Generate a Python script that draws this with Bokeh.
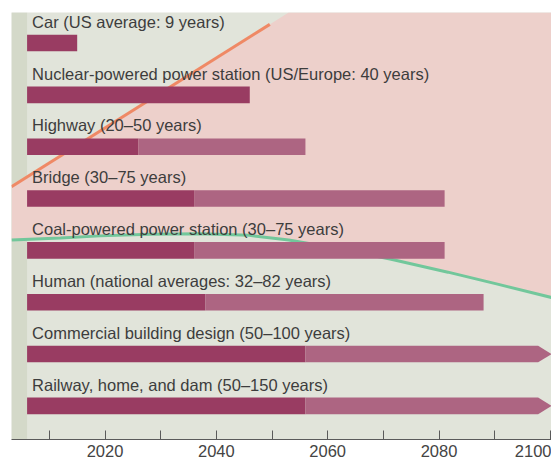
import numpy as np
from bokeh.plotting import figure
from bokeh.models import Range1d, FixedTicker
from bokeh.embed import file_html
from bokeh.resources import INLINE
from bokeh.core.properties import value

# ---- data ----
labels = [
    "Car (US average: 9 years)",
    "Nuclear-powered power station (US/Europe: 40 years)",
    "Highway (20\u201350 years)",
    "Bridge (30\u201375 years)",
    "Coal-powered power station (30\u201375 years)",
    "Human (national averages: 32\u201382 years)",
    "Commercial building design (50\u2013100 years)",
    "Railway, home, and dam (50\u2013150 years)",
]
start_year = 2006
min_years = [9, 40, 20, 30, 30, 32, 50, 50]
max_years = [9, 40, 50, 75, 75, 82, 100, 150]
rows = [7, 6, 5, 4, 3, 2, 1, 0]

major_ticks = [2020, 2040, 2060, 2080, 2100]
minor_ticks = [2010, 2030, 2050, 2070, 2090]

orange_x = [2003.2, 2049.6]
orange_y = [4.23, 7.36]
green_x = [2003.2, 2012.0, 2019.1, 2028.0, 2037.0, 2045.9, 2053.0, 2062.0, 2071.4, 2081.6, 2090.5, 2101.0]
green_y = [3.20, 3.24, 3.28, 3.31, 3.32, 3.29, 3.20, 3.03, 2.83, 2.58, 2.35, 2.07]

X0, X1 = 2003.2, 2100.2
Y0, Y1 = -0.648, 7.589

# ---- styles ----
BG = "#e1e4da"
STRIP = "#d4d9c9"
PINK = "#edd0cb"
DARK = "#993c62"
LIGHT = "#ad6582"
ORANGE = "#ef8965"
GREEN = "#72c79b"
FONT = "Liberation Sans"
BAR_H = 0.32
LABEL_GAP = 0.25
HEAD = 2.4

p = figure(width=551, height=459, x_range=Range1d(X0, X1), y_range=Range1d(Y0, Y1),
           output_backend="svg", toolbar_location=None, y_axis_location=None,
           min_border_left=11, min_border_right=0, min_border_top=12, min_border_bottom=0)
p.background_fill_color = BG
p.border_fill_color = "white"
p.outline_line_color = None
p.grid.visible = False

# left strip
p.quad(left=[X0], right=[start_year], bottom=[Y0], top=[Y1], color=STRIP, line_color=None)

# pink zone between the orange line and green curve
slope = (orange_y[1] - orange_y[0]) / (orange_x[1] - orange_x[0])
x_top = orange_x[0] + (Y1 - orange_y[0]) / slope
pxs = [orange_x[0], x_top, green_x[-1]] + green_x[::-1]
pys = [orange_y[0], Y1, Y1] + green_y[::-1]
p.patch(pxs, pys, color=PINK, line_color=None)

p.line(orange_x, orange_y, line_width=3, color=ORANGE)
p.line(green_x, green_y, line_width=3, color=GREEN)

rows_a = np.array(rows, dtype=float)
mn = np.array(min_years, dtype=float)
mx = np.array(max_years, dtype=float)

# dark bars (minimum lifetime)
p.hbar(y=rows_a, left=start_year, right=start_year + mn, height=BAR_H, color=DARK, line_color=None)

# light bars (range to maximum)
ends = start_year + mx
inside = (mx > mn) & (ends <= X1)
p.hbar(y=rows_a[inside], left=start_year + mn[inside], right=ends[inside], height=BAR_H,
       color=LIGHT, line_color=None)

# arrows for bars going beyond the view
over = ends > X1
xs, ys = [], []
for r, m in zip(rows_a[over], mn[over]):
    l = start_year + m
    b = X1 - HEAD
    xs.append([l, b, X1, b, l])
    ys.append([r - BAR_H / 2, r - BAR_H / 2, r, r + BAR_H / 2, r + BAR_H / 2])
p.patches(xs, ys, color=LIGHT, line_color=None)

# labels
p.text(x=[start_year] * len(rows), y=rows_a + BAR_H / 2 + LABEL_GAP, text=labels, x_offset=5,
       text_font=value(FONT), text_font_size="16.5px", text_color="#3d3d3d",
       text_baseline="alphabetic", text_align="left")

ax = p.xaxis[0]
ax.ticker = FixedTicker(ticks=major_ticks, minor_ticks=minor_ticks)
ax.major_tick_in = 9
ax.major_tick_out = 0
ax.minor_tick_in = 9
ax.minor_tick_out = 0
ax.axis_line_color = "#5a5a5a"
ax.major_tick_line_color = "#5a5a5a"
ax.minor_tick_line_color = "#5a5a5a"
ax.major_label_text_font = FONT
ax.major_label_text_font_size = "16.5px"
ax.major_label_text_color = "#444444"
ax.major_label_standoff = 5

open("out.html", "w").write(file_html(p, INLINE))
